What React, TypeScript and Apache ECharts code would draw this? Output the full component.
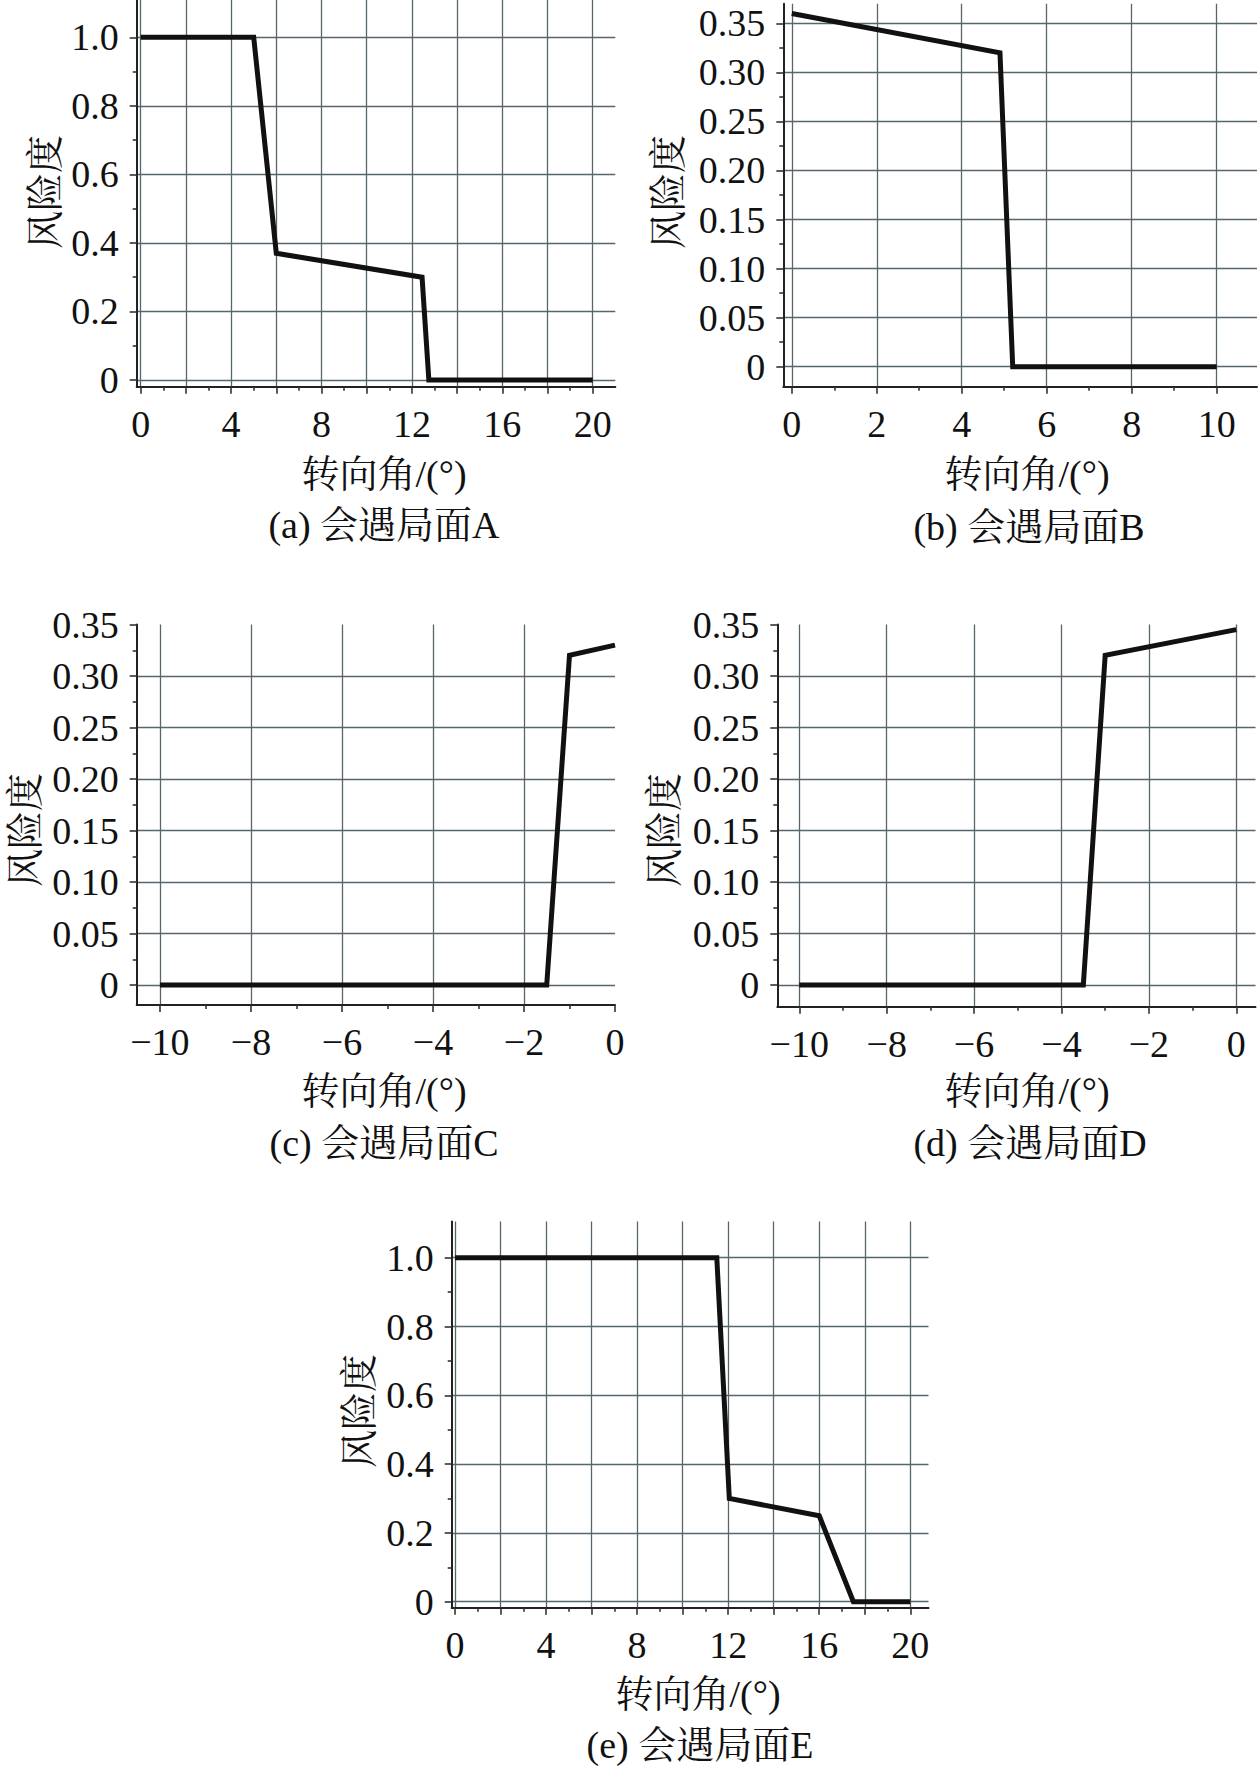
import React, { useEffect, useRef } from "react";
import * as echarts from "echarts";

// ---- data ----
const seriesA: number[][] = [[0, 1.0], [5, 1.0], [6, 0.37], [12.45, 0.3], [12.75, 0], [20, 0]];
const seriesB: number[][] = [[0, 0.36], [4.9, 0.32], [5.2, 0], [10, 0]];
const seriesC: number[][] = [[-10, 0], [-1.5, 0], [-1.0, 0.32], [0, 0.33]];
const seriesD: number[][] = [[-10, 0], [-3.5, 0], [-3.0, 0.32], [0, 0.345]];
const seriesE: number[][] = [[0, 1.0], [11.5, 1.0], [12.05, 0.3], [16, 0.25], [17.5, 0], [20, 0]];

const xLabelsAE = [0, 4, 8, 12, 16, 20];
const xMajorAE = [0, 2, 4, 6, 8, 10, 12, 14, 16, 18, 20];
const xMinorAE = [1, 3, 5, 7, 9, 11, 13, 15, 17, 19];
const xLabelsB = [0, 2, 4, 6, 8, 10];
const xMinorB = [1, 3, 5, 7, 9];
const xLabelsCD = [-10, -8, -6, -4, -2, 0];
const xMinorCD = [-9, -7, -5, -3, -1];
const yLabelsAE = [0, 0.2, 0.4, 0.6, 0.8, 1.0];
const yMinorAE = [0.1, 0.3, 0.5, 0.7, 0.9];
const yLabelsBCD = [0, 0.05, 0.1, 0.15, 0.2, 0.25, 0.3, 0.35];
const yMinorBCD = [0.025, 0.075, 0.125, 0.175, 0.225, 0.275, 0.325];

const xTitle = "转向角/(°)";
const yTitle = "风险度";
const captions = ["(a) 会遇局面A", "(b) 会遇局面B", "(c) 会遇局面C", "(d) 会遇局面D", "(e) 会遇局面E"];

// ---- layout ----
const FONT = "'Liberation Serif', 'Times New Roman', 'Noto Serif CJK SC', 'Noto Sans CJK SC', serif";
const TICK_FS = 38;
const TITLE_FS = 38;
const INK = "#111";
const GRID_COLOR = "#56666d";

type Panel = {
  data: number[][];
  xLabels: number[];
  xMajor: number[];
  xMinor: number[];
  yLabels: number[];
  yMinor: number[];
  yDigits: number;
  box: { left: number; top: number; width: number; height: number };
  xr: [number, number];
  yr: [number, number];
  hideXMax: boolean;
  hideYMax: boolean;
  caption: string;
  titlePos: [number, number];
  capPos: [number, number];
  yTitlePos: [number, number];
};

const panels: Panel[] = [
  {
    data: seriesA, xLabels: xLabelsAE, xMajor: xMajorAE, xMinor: xMinorAE,
    yLabels: yLabelsAE, yMinor: yMinorAE, yDigits: 1,
    box: { left: 136.7, top: 0, width: 478.6, height: 386.7 },
    xr: [-0.177, 21], yr: [-0.0195, 1.109], hideXMax: false, hideYMax: false,
    caption: captions[0], titlePos: [384, 474], capPos: [384, 525], yTitlePos: [45, 192],
  },
  {
    data: seriesB, xLabels: xLabelsB, xMajor: xLabelsB, xMinor: xMinorB,
    yLabels: yLabelsBCD, yMinor: yMinorBCD, yDigits: 2,
    box: { left: 783.3, top: 3.7, width: 473.7, height: 383 },
    xr: [-0.2, 10.95], yr: [-0.0204, 0.37], hideXMax: false, hideYMax: false,
    caption: captions[1], titlePos: [1027, 474], capPos: [1029, 527], yTitlePos: [668, 192],
  },
  {
    data: seriesC, xLabels: xLabelsCD, xMajor: xLabelsCD, xMinor: xMinorCD,
    yLabels: yLabelsBCD, yMinor: yMinorBCD, yDigits: 2,
    box: { left: 136.7, top: 624.5, width: 478.3, height: 380.5 },
    xr: [-10.51, 0], yr: [-0.0194, 0.35], hideXMax: true, hideYMax: true,
    caption: captions[2], titlePos: [384, 1091], capPos: [384, 1143], yTitlePos: [25, 830],
  },
  {
    data: seriesD, xLabels: xLabelsCD, xMajor: xLabelsCD, xMinor: xMinorCD,
    yLabels: yLabelsBCD, yMinor: yMinorBCD, yDigits: 2,
    box: { left: 777.3, top: 624.5, width: 478.2, height: 382.2 },
    xr: [-10.503, 0.44], yr: [-0.021, 0.35], hideXMax: false, hideYMax: true,
    caption: captions[3], titlePos: [1027, 1091], capPos: [1030, 1143], yTitlePos: [664, 830],
  },
  {
    data: seriesE, xLabels: xLabelsAE, xMajor: xMajorAE, xMinor: xMinorAE,
    yLabels: yLabelsAE, yMinor: yMinorAE, yDigits: 1,
    box: { left: 451.7, top: 1221.6, width: 476.8, height: 386.1 },
    xr: [-0.145, 20.8], yr: [-0.0174, 1.105], hideXMax: false, hideYMax: false,
    caption: captions[4], titlePos: [698, 1694], capPos: [700, 1745], yTitlePos: [359, 1411],
  },
];

const fmtX = (v: number) => (v < 0 ? "\u2212" + String(-v) : String(v));

function buildOption() {
  const grid: any[] = [];
  const xAxis: any[] = [];
  const yAxis: any[] = [];
  const series: any[] = [];
  const graphic: any[] = [];

  panels.forEach((p, i) => {
    grid.push({ ...p.box, containLabel: false, outerBoundsMode: "none" });
    const mainX = {
      type: "value", gridIndex: i, position: "bottom", min: p.xr[0], max: p.xr[1],
      axisLine: { show: true, onZero: false, lineStyle: { color: "#222", width: 2 } },
      axisTick: { show: true, inside: false, length: 7, customValues: p.xMajor, lineStyle: { color: "#333", width: 1.6 } },
      axisLabel: {
        show: true, customValues: p.xLabels, margin: 18, color: INK,
        fontFamily: FONT, fontSize: TICK_FS, formatter: fmtX,
      },
      splitLine: { show: true, showMaxLine: !p.hideXMax, lineStyle: { color: GRID_COLOR, width: 1.3 } },
    };
    const minorX = {
      type: "value", gridIndex: i, position: "bottom", min: p.xr[0], max: p.xr[1],
      axisLine: { show: false, onZero: false },
      axisTick: { show: true, inside: false, length: 4, customValues: p.xMinor, lineStyle: { color: "#333", width: 1.6 } },
      axisLabel: { show: false },
      splitLine: { show: false },
    };
    const mainY = {
      type: "value", gridIndex: i, position: "left", min: p.yr[0], max: p.yr[1],
      axisLine: { show: true, onZero: false, lineStyle: { color: "#222", width: 2 } },
      axisTick: { show: true, inside: false, length: 7, customValues: p.yLabels, lineStyle: { color: "#333", width: 1.6 } },
      axisLabel: {
        show: true, customValues: p.yLabels, margin: 18, color: INK,
        fontFamily: FONT, fontSize: TICK_FS,
        formatter: (v: number) => (v === 0 ? "0" : v.toFixed(p.yDigits)),
      },
      splitLine: { show: true, showMaxLine: !p.hideYMax, lineStyle: { color: GRID_COLOR, width: 1.3 } },
    };
    const minorY = {
      type: "value", gridIndex: i, position: "left", min: p.yr[0], max: p.yr[1],
      axisLine: { show: false, onZero: false },
      axisTick: { show: true, inside: false, length: 4, customValues: p.yMinor, lineStyle: { color: "#333", width: 1.6 } },
      axisLabel: { show: false },
      splitLine: { show: false },
    };
    xAxis.push(mainX, minorX);
    yAxis.push(mainY, minorY);
    series.push({
      type: "line", xAxisIndex: 2 * i, yAxisIndex: 2 * i, data: p.data,
      showSymbol: false, symbol: "none", z: 5,
      lineStyle: { color: "#111", width: 5, join: "miter" },
    });
    graphic.push(
      {
        type: "text", x: p.titlePos[0], y: p.titlePos[1],
        style: { text: xTitle, font: `${TITLE_FS}px ${FONT}`, fill: INK, textAlign: "center", textVerticalAlign: "middle" },
      },
      {
        type: "text", x: p.capPos[0], y: p.capPos[1],
        style: { text: p.caption, font: `${TITLE_FS}px ${FONT}`, fill: INK, textAlign: "center", textVerticalAlign: "middle" },
      },
      {
        type: "text", x: p.yTitlePos[0], y: p.yTitlePos[1], rotation: Math.PI / 2,
        style: { text: yTitle, font: `${TITLE_FS}px ${FONT}`, fill: INK, textAlign: "center", textVerticalAlign: "middle" },
      }
    );
  });

  return {
    animation: false,
    backgroundColor: "#ffffff",
    grid, xAxis, yAxis, series, graphic,
  };
}

export default function App() {
  const ref = useRef<HTMLDivElement | null>(null);
  useEffect(() => {
    if (!ref.current) return;
    const chart = echarts.init(ref.current, undefined, { renderer: "svg" });
    chart.setOption(buildOption() as any);
    return () => chart.dispose();
  }, []);
  return (
    <div
      ref={ref}
      style={{ position: "absolute", left: 0, top: 0, width: 1260, height: 1772, background: "#fff" }}
    />
  );
}
